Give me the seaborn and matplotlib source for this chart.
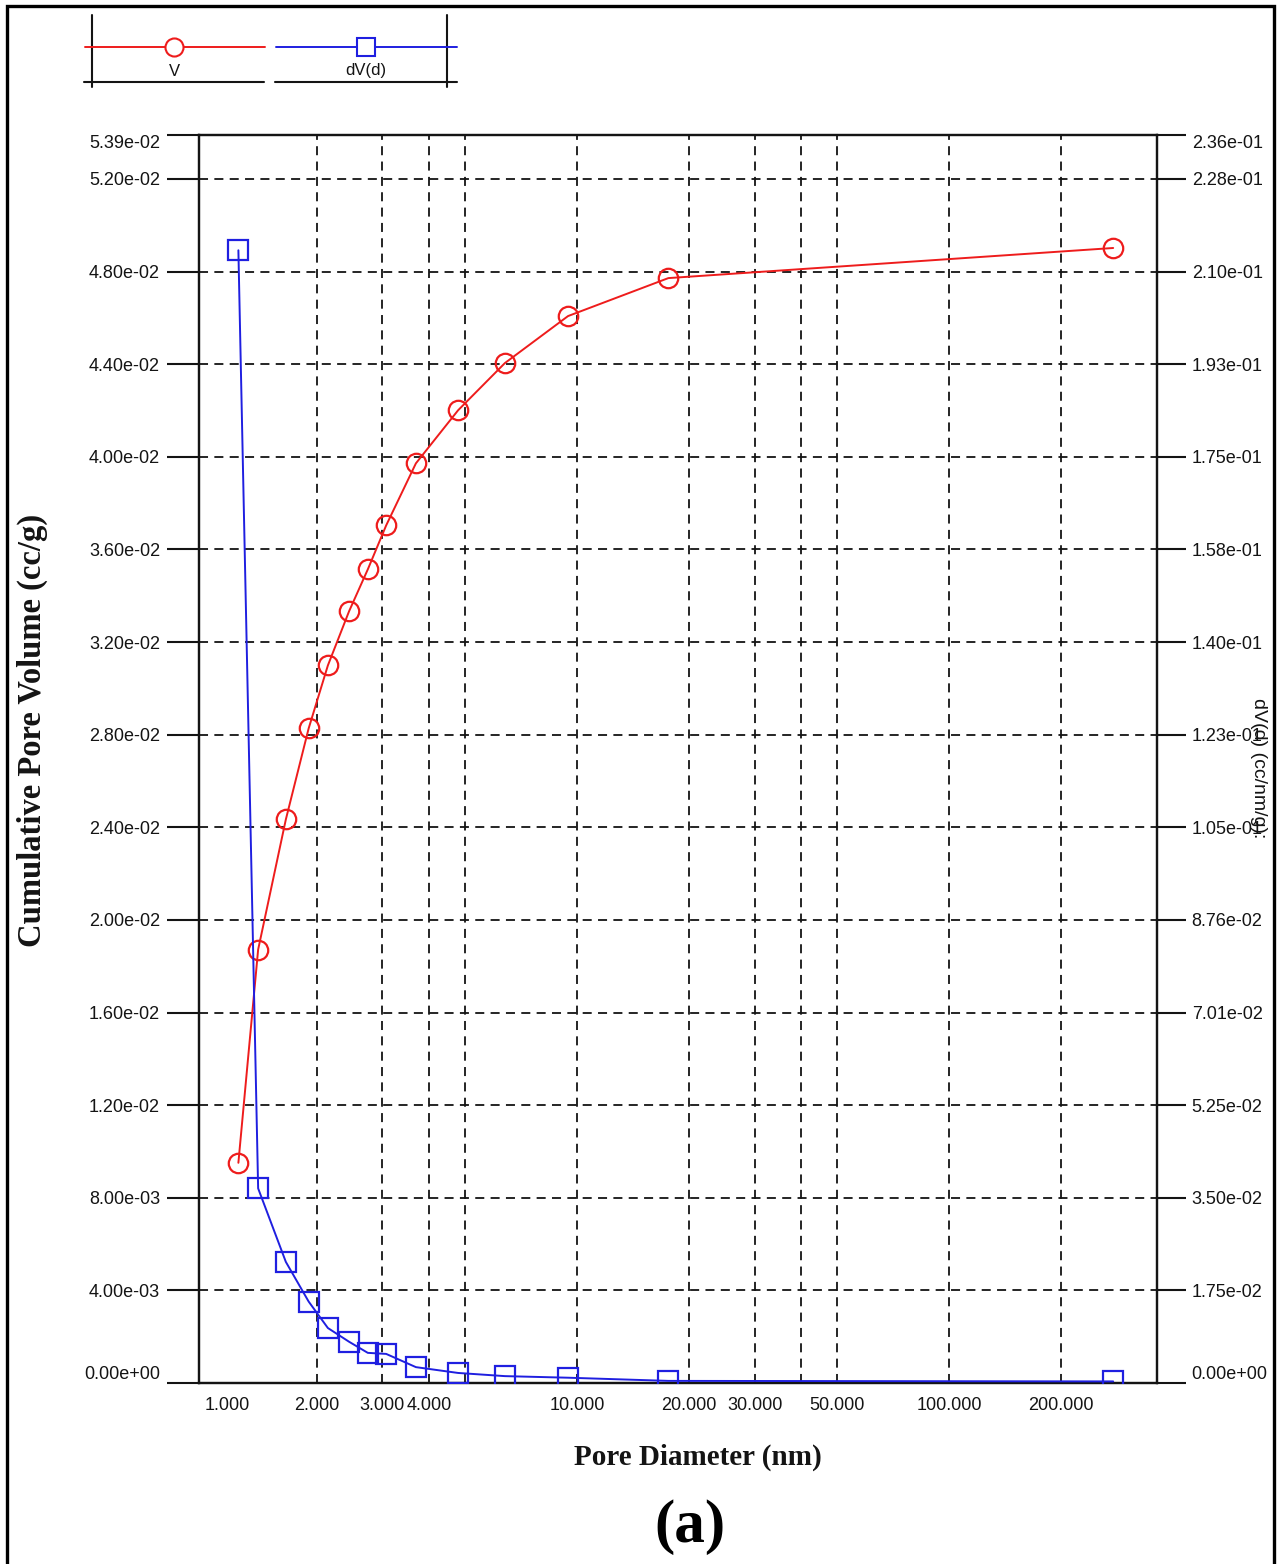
import matplotlib
matplotlib.use("Agg")
import numpy as np
import seaborn as sns
from matplotlib import pyplot as plt
from matplotlib.patches import Rectangle
from matplotlib.ticker import FixedLocator, NullFormatter

# pore size distribution
pore_diameter = [1.23, 1.39, 1.65, 1.90, 2.14, 2.44, 2.74, 3.07, 3.69, 4.79,
                 6.40, 9.46, 17.6, 276.0]
cum_volume = [0.00951, 0.01872, 0.02434, 0.02827, 0.03099, 0.03333, 0.03514,
              0.03704, 0.03972, 0.04201, 0.04405, 0.04608, 0.04772, 0.04902]
dv_d = [0.2142, 0.0368, 0.0229, 0.0154, 0.0104, 0.0078, 0.0057, 0.0055,
        0.0030, 0.0019, 0.0013, 0.0010, 0.0004, 0.0003]

x_ticks = [1, 2, 3, 4, 10, 20, 30, 50, 100, 200]
x_grid_extra = [5, 40]
left_max = 0.0539
right_max = 0.236
left_ticks = [0.0, 0.004, 0.008, 0.012, 0.016, 0.020, 0.024, 0.028, 0.032,
              0.036, 0.040, 0.044, 0.048, 0.052, 0.0539]
right_tick_labels = ['0.00e+00', '1.75e-02', '3.50e-02', '5.25e-02', '7.01e-02',
                     '8.76e-02', '1.05e-01', '1.23e-01', '1.40e-01', '1.58e-01',
                     '1.75e-01', '1.93e-01', '2.10e-01', '2.28e-01', '2.36e-01']

red = '#ee1c1c'
blue = '#1f1fe0'
ink = '#141414'

sns.set_style('white')
plt.rcParams['font.family'] = ['Liberation Sans', 'DejaVu Sans']

W, H = 1281, 1564
fig = plt.figure(figsize=(W / 100, H / 100), dpi=100)
ax = fig.add_axes([199 / W, 1 - 1383 / H, (1157 - 199) / W, (1383 - 135) / H])
ax.set_xscale('log')
ax2 = ax.twinx()

sns.lineplot(x=pore_diameter, y=cum_volume, ax=ax, color=red, linewidth=1.4,
             marker='o', markersize=14, markerfacecolor='none',
             markeredgecolor=red, markeredgewidth=1.6, zorder=5)
sns.lineplot(x=pore_diameter, y=dv_d, ax=ax2, color=blue, linewidth=1.4,
             marker='s', markersize=14, markerfacecolor='none',
             markeredgecolor=blue, markeredgewidth=1.6, zorder=5)

ax.set_xlim(0.964, 362)
ax.set_ylim(0, left_max)
ax2.set_ylim(0, right_max)

# x axis
ax.xaxis.set_major_locator(FixedLocator(x_ticks))
ax.set_xticklabels(['%.3f' % t for t in x_ticks])
ax.xaxis.set_minor_locator(FixedLocator(x_grid_extra))
ax.xaxis.set_minor_formatter(NullFormatter())
ax.tick_params(axis='x', which='major', direction='inout', length=12,
               width=1.5, pad=4, labelsize=13, labelcolor=ink, color=ink)
ax.tick_params(axis='x', which='minor', length=0)

# left y axis
ax.yaxis.set_major_locator(FixedLocator(left_ticks))
ax.set_yticklabels(['%.2e' % t for t in left_ticks])
ax.tick_params(axis='y', direction='out', length=23, width=1.5, pad=5,
               labelsize=13, labelcolor=ink, color=ink)

# right y axis, same tick rows as the left one
ax2.yaxis.set_major_locator(FixedLocator(np.array(left_ticks) * right_max / left_max))
ax2.set_yticklabels(right_tick_labels)
ax2.tick_params(axis='y', direction='out', length=21, width=1.5, pad=4,
                labelsize=13, labelcolor=ink, color=ink)

ax.get_yticklabels()[0].set_va('bottom')
ax.get_yticklabels()[-1].set_va('top')
ax2.get_yticklabels()[0].set_va('bottom')
ax2.get_yticklabels()[-1].set_va('top')
ax.get_xticklabels()[0].set_ha('left')

grid_kw = dict(color=ink, linestyle=(0, (5, 3.5)), linewidth=1.3)
ax.yaxis.grid(True, which='major', **grid_kw)
ax.xaxis.grid(True, which='both', **grid_kw)
# no dashed line at 1.000, it sits on the left spine
ax.xaxis.get_major_ticks()[0].gridline.set_visible(False)
ax2.grid(False)
ax.set_xlabel('')
ax.set_ylabel('')
ax2.set_ylabel('')
for a in (ax, ax2):
    for s in a.spines.values():
        s.set_linewidth(1.6)
        s.set_color(ink)

# axis titles
serif = ['Liberation Serif', 'DejaVu Serif']
fig.text(698 / W, 1 - 1457 / H, 'Pore Diameter (nm)', ha='center', va='center',
         fontsize=21, fontweight='bold', family=serif, color=ink)
fig.text(32 / W, 1 - 730 / H, 'Cumulative Pore Volume (cc/g)', rotation=90,
         ha='center', va='center', fontsize=23.5, fontweight='bold',
         family=serif, color=ink)
fig.text(1259 / W, 1 - 768 / H, 'dV(d) (cc/nm/g):', rotation=270,
         ha='center', va='center', fontsize=14, color=ink)
fig.text(690 / W, 1 - 1527 / H, '(a)', ha='center', va='center',
         fontsize=44, fontweight='bold', family=serif, color='black')

# legend box at the top left, drawn in pixel units
leg = fig.add_axes([0, 1 - 100 / H, 500 / W, 100 / H])
leg.set_xlim(0, 500)
leg.set_ylim(100, 0)
leg.axis('off')
for xs, ys in [([92, 92], [15, 87]), ([447, 447], [15, 87]),
               ([84, 264], [82, 82]), ([275, 457], [82, 82])]:
    leg.plot(xs, ys, color=ink, linewidth=1.5)
leg.plot([85, 265], [47, 47], color=red, linewidth=1.4)
leg.plot([174], [47], marker='o', markersize=13, markerfacecolor='white',
         markeredgecolor=red, markeredgewidth=1.5)
leg.plot([276, 457], [47, 47], color=blue, linewidth=1.4)
leg.plot([366], [47], marker='s', markersize=13, markerfacecolor='white',
         markeredgecolor=blue, markeredgewidth=1.5)
leg.text(174, 71, 'V', ha='center', va='center', fontsize=12, color=ink)
leg.text(366, 71, 'dV(d)', ha='center', va='center', fontsize=12, color=ink)

# outer frame of the panel
fig.add_artist(Rectangle((7 / W, -0.01), (1274 - 7) / W, 1.01 - 6 / H,
                         transform=fig.transFigure, fill=False,
                         linewidth=2.4, edgecolor='black'))

fig.savefig('out.png', dpi=100)
